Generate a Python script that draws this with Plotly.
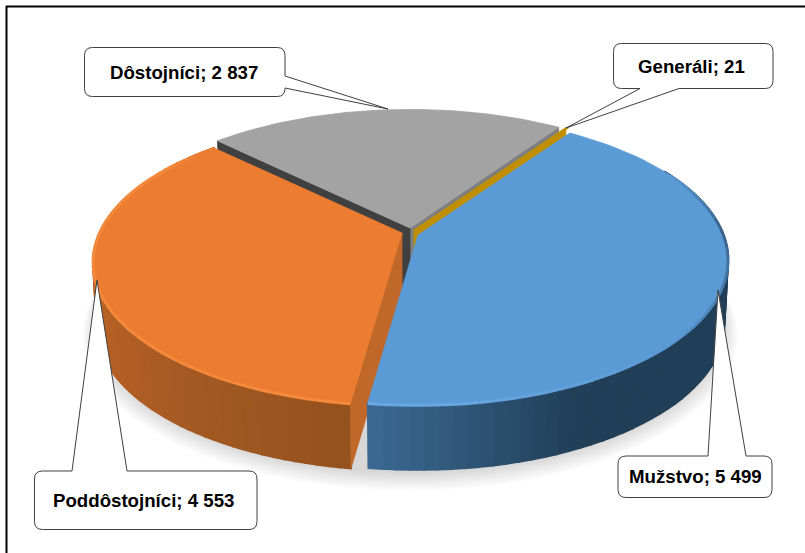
import math
import plotly.graph_objects as go

categories = ["Mužstvo", "Poddôstojníci", "Dôstojníci", "Generáli"]
values = [5499, 4553, 2837, 21]
value_labels = ["5 499", "4 553", "2 837", "21"]

START = 34.5
A = 315.0
DEPTH = 65
total = sum(values)

# per slice geometry style: apex, radius, x-factor, perspective, y scale
STYLE = {
    "Mužstvo": dict(ax=418, ay=235, r=1.0, fx=0.97, k=0.17, B=141, top="#5b9bd5"),
    "Poddôstojníci": dict(ax=402, ay=233, r=1.005, fx=0.956, k=0.2, B=137, top="#eb7c30"),
    "Dôstojníci": dict(ax=410, ay=228, r=0.95, fx=1.01, k=0.17, B=145, top="#a3a3a3"),
    "Generáli": dict(ax=414, ay=230, r=0.985, fx=1.0, k=0.17, B=143, top="#bf8f00"),
}


def pt(th, s, d=0.0):
    t = math.radians(th)
    sh = 1 - 0.012 * (d / DEPTH)
    u, v = s["r"] * sh * math.sin(t), -s["r"] * math.cos(t)
    w = 1 - s["k"] * v
    return s["ax"] + s["fx"] * A * u / w, s["ay"] + s["B"] * v / w + d


def lerp(c1, c2, f):
    f = max(0, min(1, f))
    a = [int(c1[i:i + 2], 16) for i in (1, 3, 5)]
    b = [int(c2[i:i + 2], 16) for i in (1, 3, 5)]
    return "#%02x%02x%02x" % tuple(round(a[i] + (b[i] - a[i]) * f) for i in range(3))


fig = go.Figure()


def poly(pts, color, lw=0.8):
    xs = [p[0] for p in pts] + [pts[0][0]]
    ys = [p[1] for p in pts] + [pts[0][1]]
    fig.add_trace(go.Scatter(x=xs, y=ys, mode="lines", fill="toself", fillcolor=color,
                             line=dict(color=color, width=lw), hoverinfo="skip", showlegend=False))


def seg(p, q, color, width):
    fig.add_trace(go.Scatter(x=[p[0], q[0]], y=[p[1], q[1]], mode="lines",
                             line=dict(color=color, width=width), hoverinfo="skip", showlegend=False))


# angular ranges from values
ranges = {}
a0 = START
for c, val in zip(categories, values):
    a1 = a0 + 360.0 * val / total
    ranges[c] = (a0, a1)
    a0 = a1


def arc(s, a, b, n=70, d=0.0):
    return [pt(a + (b - a) * i / n, s, d) for i in range(n + 1)]


def top(c):
    s = STYLE[c]
    a, b = ranges[c]
    poly([(s["ax"], s["ay"])] + arc(s, a, b), s["top"])


def radial_wall(c, th, color):
    s = STYLE[c]
    p, q = pt(th, s), pt(th, s, DEPTH)
    poly([(s["ax"], s["ay"]), p, q, (s["ax"], s["ay"] + DEPTH)], color)


def outer_wall(c, colorf, n=70):
    s = STYLE[c]
    a, b = ranges[c]
    for i in range(n):
        t0, t1 = a + (b - a) * i / n, a + (b - a) * (i + 1) / n
        if 60 > t0 > 0:
            continue
        poly([pt(t0, s), pt(t1, s), pt(t1, s, DEPTH), pt(t0, s, DEPTH)], colorf((t0 + t1) / 2), lw=2)


def rim(c, colorf, n=70):
    s = STYLE[c]
    a, b = ranges[c]
    for i in range(n):
        t0, t1 = a + (b - a) * i / n, a + (b - a) * (i + 1) / n
        col = colorf((t0 + t1) / 2)
        if col is None:
            continue
        seg(pt(t0, s, 0.5), pt(t1, s, 0.5), col, 3)


# soft shadow below the pie
sh = dict(ax=410, ay=235 + DEPTH + 3, r=1.0, fx=0.985, k=0.15, B=145)
for i in range(8):
    g = dict(sh)
    g["r"] = 1.0 + 0.006 * i
    g["ay"] = sh["ay"] + 1.2 * i
    c = arc(g, 0, 360, 120)
    fig.add_trace(go.Scatter(x=[p[0] for p in c], y=[p[1] for p in c], mode="lines", fill="toself",
                             fillcolor="rgba(0,0,0,0.018)", line=dict(width=0),
                             hoverinfo="skip", showlegend=False))

# Dôstojníci
ga, gb = ranges["Dôstojníci"]
radial_wall("Dôstojníci", gb, "#7f7f7f")
radial_wall("Dôstojníci", ga, "#404040")
top("Dôstojníci")

# Generáli
radial_wall("Generáli", ranges["Generáli"][0], "#bf8f00")
top("Generáli")


# Poddôstojníci
def orange_wall(t):
    return lerp("#95521f", "#c96a2a", (t - 190) / 85)


oa, ob = ranges["Poddôstojníci"]
outer_wall("Poddôstojníci", orange_wall)
radial_wall("Poddôstojníci", oa, "#c0682a")
top("Poddôstojníci")
rim("Poddôstojníci", lambda t: "#f58a3c" if t < 300 else lerp("#f58a3c", "#eb7c30", (t - 300) / 12))


# Mužstvo
def blue_wall(t):
    return lerp("#223f58", "#3a6891", (t - 155) / 32)


def blue_rim(t):
    if t < 62:
        return None
    if t < 88:
        return lerp("#5b9bd5", "#37628a", (t - 62) / 26)
    if t < 135:
        return lerp("#37628a", "#5b9bd5", (t - 88) / 47)
    return lerp("#5b9bd5", "#6aa8e4", (t - 135) / 45)


outer_wall("Mužstvo", blue_wall)
top("Mužstvo")
rim("Mužstvo", blue_rim)


def rounded(x0, y0, x1, y1, wedge, r=8):
    side, a, tipx, tipy, b = wedge
    p = f"M{x0 + r},{y0} "
    if side == "top":
        p += f"L{a},{y0} L{tipx},{tipy} L{b},{y0} "
    p += f"L{x1 - r},{y0} Q{x1},{y0} {x1},{y0 + r} "
    if side == "right":
        p += f"L{x1},{a} L{tipx},{tipy} L{x1},{b} "
    p += f"L{x1},{y1 - r} Q{x1},{y1} {x1 - r},{y1} "
    if side == "bottom":
        p += f"L{b},{y1} L{tipx},{tipy} L{a},{y1} "
    p += f"L{x0 + r},{y1} Q{x0},{y1} {x0},{y1 - r} L{x0},{y0 + r} Q{x0},{y0} {x0 + r},{y0} Z"
    return dict(type="path", path=p, xref="x", yref="y", fillcolor="#ffffff",
                line=dict(color="#404040", width=1), layer="above")


CALLOUTS = {
    "Dôstojníci": (84.5, 47.5, 285, 96.5, ("right", 76, 388, 109, 88), -1),
    "Generáli": (613.5, 43.5, 773, 88.5, ("bottom", 640, 566, 128, 679), -2),
    "Poddôstojníci": (34.5, 471, 257, 529.5, ("top", 72, 97, 280, 127), -2),
    "Mužstvo": (618, 456, 772, 497.5, ("top", 708, 718, 290, 746), 0),
}

shapes = [
    dict(type="line", xref="x", yref="y", x0=6, y0=6.5, x1=805, y1=6.5, line=dict(color="#000000", width=2), layer="above"),
    dict(type="line", xref="x", yref="y", x0=6.5, y0=6, x1=6.5, y1=553, line=dict(color="#000000", width=2), layer="above"),
]
annotations = []
for c, lab in zip(categories, value_labels):
    x0, y0, x1, y1, w, dx = CALLOUTS[c]
    shapes.append(rounded(x0, y0, x1, y1, w))
    annotations.append(dict(x=(x0 + x1) / 2, y=(y0 + y1) / 2, xref="x", yref="y", showarrow=False, xshift=dx,
                            text=f"<b>{c}; {lab}</b>",
                            font=dict(family="Liberation Sans, Arial", size=18.67, color="#000000")))

fig.update_layout(
    width=805, height=553, margin=dict(l=0, r=0, t=0, b=0), autosize=False,
    paper_bgcolor="#ffffff", plot_bgcolor="#ffffff", showlegend=False,
    xaxis=dict(range=[0, 805], visible=False, fixedrange=True),
    yaxis=dict(range=[553, 0], visible=False, fixedrange=True),
    shapes=shapes, annotations=annotations,
)
fig.write_html("out.html", post_script="document.body.style.margin='0';document.body.style.overflow='hidden';",
               config=dict(displayModeBar=False))
